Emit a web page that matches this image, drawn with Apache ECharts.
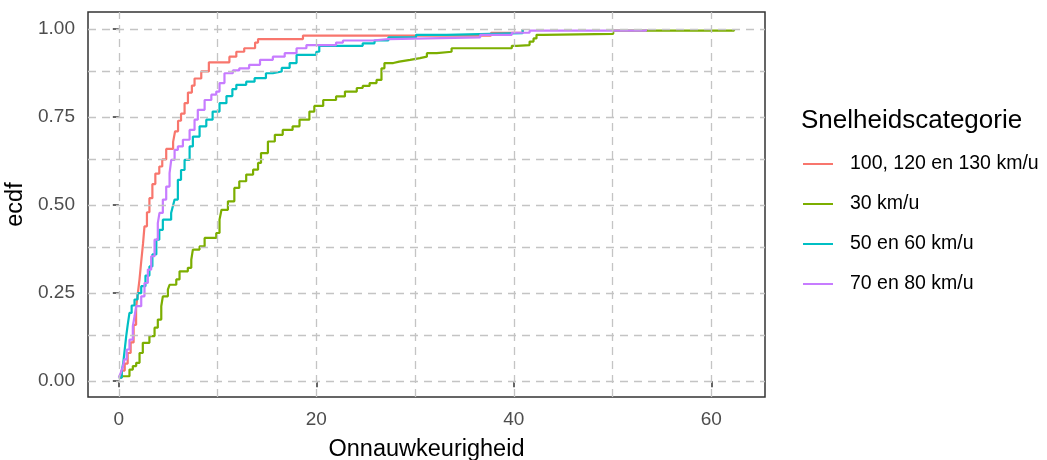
<!DOCTYPE html>
<html>
<head>
<meta charset="utf-8">
<script src="https://cdn.jsdelivr.net/npm/echarts@6/dist/echarts.min.js"></script>
<style>html,body{margin:0;padding:0;background:#fff;}#c{width:1047px;height:460px;}</style>
</head>
<body>
<div id="c"></div>
<script>
const seriesNames = ['100, 120 en 130 km/u', '30 km/u', '50 en 60 km/u', '70 en 80 km/u'];
const seriesColors = ['#F8766D', '#7CAE00', '#00BFC4', '#C77CFF'];

const ecdf100 = [[0,0.01],[0.3,0.03],[0.6,0.05],[0.9,0.08],[1.2,0.11],[1.5,0.16],[1.75,0.21],[1.93,0.25],[2.1,0.29],[2.27,0.34],[2.45,0.39],[2.6,0.44],[2.85,0.48],[3.1,0.52],[3.4,0.56],[3.7,0.59],[4.1,0.61],[4.4,0.63],[4.8,0.66],[5.5,0.68],[5.7,0.71],[6.0,0.74],[6.3,0.76],[6.66,0.79],[7.0,0.82],[7.4,0.84],[7.67,0.86],[8.35,0.88],[9.12,0.906],[11.2,0.922],[11.9,0.936],[12.7,0.946],[13.8,0.962],[14.1,0.972],[18.65,0.982],[37.7,0.99],[40.9,1.0]];

const ecdf30 = [[0,0.014],[1.08,0.033],[1.42,0.043],[1.76,0.052],[2.1,0.08],[2.43,0.109],[3.1,0.128],[3.62,0.152],[3.95,0.175],[4.3,0.213],[4.46,0.241],[4.97,0.26],[5.14,0.274],[5.82,0.289],[6.15,0.312],[6.99,0.322],[7.34,0.345],[7.5,0.374],[8.18,0.383],[8.69,0.407],[9.87,0.421],[10.2,0.459],[10.4,0.487],[11.05,0.511],[11.7,0.549],[12.2,0.568],[12.9,0.587],[13.6,0.601],[14.1,0.62],[14.4,0.648],[15.1,0.681],[15.8,0.7],[16.6,0.714],[17.6,0.724],[18.3,0.743],[19.3,0.766],[19.8,0.782],[20.7,0.799],[22,0.809],[22.9,0.823],[24.1,0.833],[24.7,0.839],[25.4,0.847],[26.1,0.856],[26.6,0.889],[26.9,0.904],[27.8,0.908],[28.4,0.913],[29.5,0.918],[30.5,0.922],[31.2,0.932],[32.2,0.936],[33.7,0.946],[39.8,0.953],[40.3,0.955],[41.6,0.965],[42,0.974],[42.3,0.984],[43,0.987],[50.07,0.996],[62.3,1.0]];

const ecdf50 = [[0,0.01],[0.3,0.03],[0.45,0.052],[0.6,0.09],[0.75,0.128],[0.9,0.16],[1.08,0.194],[1.3,0.215],[1.59,0.232],[1.9,0.25],[2.27,0.27],[2.7,0.3],[3.1,0.326],[3.4,0.36],[3.8,0.402],[4.1,0.43],[4.46,0.459],[5.3,0.478],[5.5,0.5],[5.65,0.516],[5.98,0.572],[6.3,0.6],[6.66,0.629],[7.17,0.667],[7.5,0.695],[8.18,0.724],[8.86,0.743],[9.5,0.766],[10.2,0.79],[10.9,0.81],[11.5,0.83],[11.9,0.842],[12.9,0.851],[13.75,0.861],[14.9,0.875],[15.6,0.88],[16.5,0.89],[17.3,0.904],[18,0.927],[20,0.936],[20.3,0.953],[24.7,0.96],[25.9,0.968],[27.3,0.977],[30.1,0.984],[33.2,0.989],[40.9,1.0]];

const ecdf70 = [[0,0.01],[0.2,0.024],[0.4,0.04],[0.58,0.062],[0.8,0.09],[1.08,0.118],[1.42,0.156],[1.6,0.185],[1.76,0.213],[2.27,0.241],[2.6,0.279],[2.94,0.317],[3.28,0.355],[3.62,0.402],[3.95,0.449],[4.12,0.478],[4.46,0.516],[4.8,0.553],[5.14,0.591],[5.31,0.629],[5.65,0.657],[5.98,0.667],[6.49,0.686],[7.17,0.714],[7.67,0.743],[8.0,0.771],[8.69,0.799],[9.37,0.814],[9.87,0.823],[10.2,0.847],[10.7,0.875],[11.55,0.883],[12.2,0.889],[13.2,0.899],[14.3,0.913],[15.6,0.922],[16.8,0.932],[18,0.946],[19,0.955],[22,0.962],[22.7,0.968],[25.7,0.972],[27.3,0.977],[36.6,0.984],[39.8,0.99],[41.6,0.996],[53.4,1.0]];

const xTicks = [0, 20, 40, 60];
const xMinorGrid = [10, 30, 50];
const yTicks = [0, 0.25, 0.5, 0.75, 1];
const yMinorGrid = [0.125, 0.375, 0.625, 0.875];

const xTitle = 'Onnauwkeurigheid';
const yTitle = 'ecdf';
const legendTitle = 'Snelheidscategorie';

const FONT = '"Liberation Sans", Arial, sans-serif';
const allData = [ecdf100, ecdf30, ecdf50, ecdf70];

const gridLineStyle = {color: '#c4c4c4', width: 1.3, type: [8, 6]};
const gridLines = []
  .concat(xTicks.concat(xMinorGrid).map(v => ({xAxis: v})))
  .concat(yTicks.concat(yMinorGrid).map(v => ({yAxis: v})));

const chart = echarts.init(document.getElementById('c'), null, {renderer: 'canvas'});
const series = [{
  name: '__grid',
  type: 'line',
  data: [],
  silent: true,
  z: 1,
  markLine: {
    silent: true,
    symbol: ['none', 'none'],
    label: {show: false},
    lineStyle: gridLineStyle,
    emphasis: {disabled: true},
    animation: false,
    data: gridLines
  }
}].concat(allData.map((d, i) => ({
  name: seriesNames[i],
  type: 'line',
  step: 'end',
  data: d,
  showSymbol: false,
  symbol: 'none',
  z: 3,
  lineStyle: {color: seriesColors[i], width: 2.2},
  itemStyle: {color: seriesColors[i]},
  emphasis: {disabled: true}
})));

chart.setOption({
  animation: false,
  backgroundColor: '#ffffff',
  title: {
    text: legendTitle,
    left: 801,
    top: 108,
    padding: 0,
    textStyle: {fontFamily: FONT, fontSize: 26, fontWeight: 'normal', color: '#000'}
  },
  legend: {
    data: seriesNames,
    orient: 'vertical',
    left: 803,
    top: 152,
    padding: 0,
    itemWidth: 30,
    itemHeight: 2,
    itemGap: 16,
    icon: 'rect',
    selectedMode: false,
    textStyle: {fontFamily: FONT, fontSize: 19.5, color: '#000', lineHeight: 24, padding: [0, 0, 0, 12]}
  },
  grid: {
    left: 88, top: 12, width: 677, height: 385,
    outerBoundsMode: 'none',
    containLabel: false,
    show: true, borderColor: '#333333', borderWidth: 1.5, backgroundColor: 'transparent'
  },
  xAxis: {
    type: 'value',
    min: -3.12, max: 65.44,
    name: xTitle,
    nameLocation: 'middle',
    nameGap: 41,
    nameTextStyle: {fontFamily: FONT, fontSize: 23.5, color: '#000'},
    axisLine: {show: false},
    axisTick: {show: true, length: 6, lineStyle: {color: '#333', width: 1.5}, customValues: xTicks},
    axisLabel: {customValues: xTicks, margin: 13, fontFamily: FONT, fontSize: 19, color: '#4d4d4d', formatter: v => String(v)},
    splitLine: {show: false}
  },
  yAxis: {
    type: 'value',
    min: -0.045, max: 1.049,
    name: yTitle,
    nameLocation: 'middle',
    nameGap: 52,
    nameRotate: 90,
    nameTextStyle: {fontFamily: FONT, fontSize: 23.5, color: '#000'},
    axisLine: {show: false},
    axisTick: {show: true, length: 6, lineStyle: {color: '#333', width: 1.5}, customValues: yTicks},
    axisLabel: {customValues: yTicks, margin: 13, fontFamily: FONT, fontSize: 19, color: '#4d4d4d', formatter: v => Number(v).toFixed(2)},
    splitLine: {show: false}
  },
  series: series
});
</script>
</body>
</html>
